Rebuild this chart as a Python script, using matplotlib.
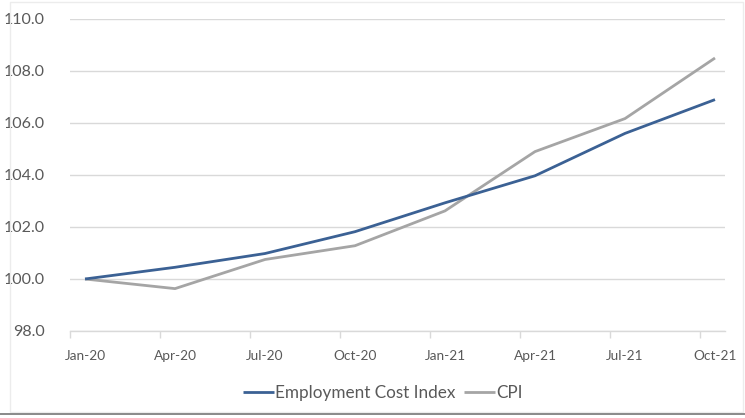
import matplotlib
matplotlib.use("Agg")
import matplotlib.pyplot as plt
from matplotlib.patches import Rectangle
from matplotlib.ticker import FixedLocator

categories = ["Jan-20", "Apr-20", "Jul-20", "Oct-20", "Jan-21", "Apr-21", "Jul-21", "Oct-21"]
eci = [100.0, 100.45, 100.98, 101.82, 102.93, 103.97, 105.6, 106.9]
cpi = [100.0, 99.63, 100.75, 101.28, 102.62, 104.9, 106.17, 108.5]
yticks = [98.0, 100.0, 102.0, 104.0, 106.0, 108.0, 110.0]

plt.rcParams['font.family'] = ['Lato', 'DejaVu Sans']

fig = plt.figure(figsize=(7.45, 4.18), dpi=100)
ax = fig.add_axes([70/745, 1-331/418, 655/745, 312/418])

x = list(range(len(categories)))
ax.plot(x, eci, color="#3b6194", lw=2.0, solid_capstyle="butt", label="Employment Cost Index", zorder=3)
ax.plot(x, cpi, color="#a5a5a5", lw=2.0, solid_capstyle="butt", label="CPI", zorder=2)

ax.set_ylim(98, 110)
ax.set_xlim(-15/90, 7 + 10/90)
ax.set_yticks(yticks)
ax.set_yticklabels([f"{v:.1f}" for v in yticks])
ax.yaxis.grid(True, color="#d9d9d9", lw=1.0)
ax.set_axisbelow(True)
for s in ["top", "right", "left"]:
    ax.spines[s].set_visible(False)
ax.spines["bottom"].set_color("#d9d9d9")
ax.spines["bottom"].set_linewidth(1.0)
ax.tick_params(axis="y", length=0, pad=18, labelsize=11.5, labelcolor="#595959")

ax.set_xticks(x)
ax.set_xticklabels(categories)
ax.tick_params(axis="x", which="major", length=0, pad=14, labelsize=9.8, labelcolor="#595959")
ax.xaxis.set_minor_locator(FixedLocator([i - 15/90 for i in x]))
ax.tick_params(axis="x", which="minor", length=5, color="#d9d9d9", width=1)

leg = fig.legend(loc="center", bbox_to_anchor=(383/745, 1-393/418), ncol=2, frameon=False,
                 fontsize=12.3, handlelength=1.8, handletextpad=0.1, columnspacing=0.5)
for t in leg.get_texts():
    t.set_color("#595959")

fig.patches.append(Rectangle((10/745, 6/418), 733/745, 410/418, transform=fig.transFigure,
                             fill=False, edgecolor="#ececec", lw=1.0))
fig.patches.append(Rectangle((0, 3/418), 1, 2.5/418, transform=fig.transFigure,
                             facecolor="#8c8c8c", edgecolor="none"))

fig.savefig("out.png", dpi=100)
